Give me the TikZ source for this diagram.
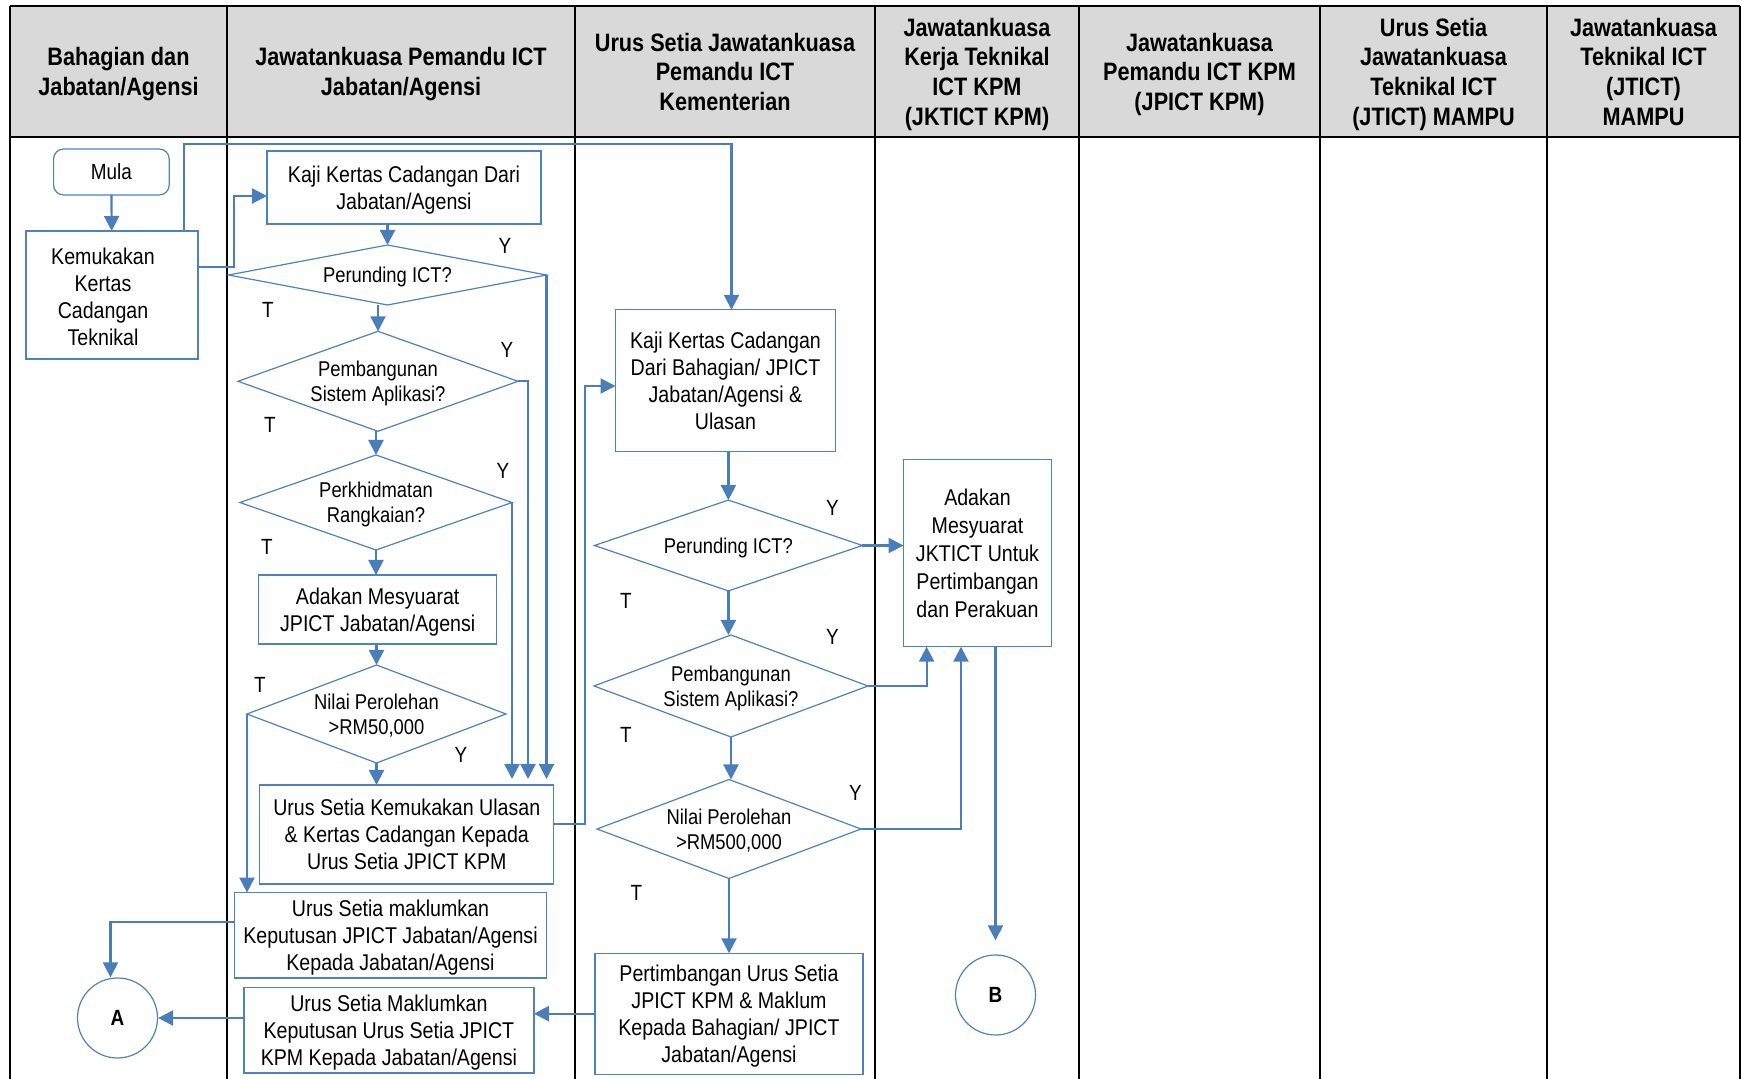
\documentclass[tikz,border=0pt]{standalone}
\usepackage{fontspec}
\setmainfont{Liberation Sans}[FakeStretch=0.86]
\usetikzlibrary{shapes.geometric,arrows.meta,calc}
\definecolor{lineblue}{RGB}{74,126,187}
\definecolor{boxblue}{RGB}{79,129,189}
\definecolor{hdrgray}{RGB}{217,217,217}
\newcommand\hdrf{\fontsize{12.6}{14.8}\selectfont\bfseries}
\newcommand\bodyf{\fontsize{11.4}{13.5}\selectfont}
\newcommand\decf{\fontsize{10.7}{12.5}\selectfont}
\newcommand\lblf{\fontsize{11}{13}\selectfont}
\newcommand\circf{\fontsize{11}{13}\selectfont\bfseries}
\tikzset{
 box/.style={draw=boxblue, line width=0.6pt, inner sep=0pt, outer sep=0pt, align=center, font=\bodyf, text=black, text depth=0pt},
 boxtext/.style={inner sep=0pt, align=center, font=\bodyf, text depth=0pt},
 dec/.style={diamond, aspect=2.8, draw=boxblue, line width=0.6pt, inner sep=0pt, outer sep=0pt, align=center, font=\decf, text depth=0pt},
 arr/.style={draw=lineblue, line width=1.1pt, -{Triangle[length=7.5pt,width=7.5pt]}},
 yt/.style={font=\lblf, inner sep=0pt},
 hdr/.style={font=\hdrf, align=center, inner sep=0pt, text depth=0pt},
 lane/.style={line width=1.2pt, draw=black},
 term/.style={circle, draw=boxblue, line width=0.6pt, minimum size=40pt, inner sep=0pt, font=\circf, text depth=0pt},
}
\begin{document}
\begin{tikzpicture}[x=0.5pt,y=-0.5pt]
\useasboundingbox (0,0) rectangle (1742,1079);
% table
\fill[hdrgray] (10,6) rectangle (1740,137);
\draw[lane] (10,6) -- (1740,6);
\draw[lane] (10,137) -- (1740,137);
\foreach \xx in {10,227,575,875,1079,1320,1547,1740}
  \draw[lane] (\xx,6) -- (\xx,1079);
% headers
\node[hdr] (h1) at (118.5,71.5) {Bahagian dan\\Jabatan/Agensi};
\node[hdr] (h2) at (401,71.5) {Jawatankuasa Pemandu ICT\\Jabatan/Agensi};
\node[hdr] (h3) at (725,71.5) {Urus Setia Jawatankuasa\\Pemandu ICT\\Kementerian};
\node[hdr] (h4) at (977,71.5) {Jawatankuasa\\Kerja Teknikal\\ICT KPM\\(JKTICT KPM)};
\node[hdr] (h5) at (1199.5,71.5) {Jawatankuasa\\Pemandu ICT KPM\\(JPICT KPM)};
\node[hdr] (h6) at (1433.5,71.5) {Urus Setia\\Jawatankuasa\\Teknikal ICT\\(JTICT) MAMPU};
\node[hdr] (h7) at (1643.5,71.5) {Jawatankuasa\\Teknikal ICT\\(JTICT)\\MAMPU};
% nodes
\node[box, rounded corners=5pt, minimum width=57.8pt, minimum height=23pt, font=\lblf] (mula) at (111.4,172) {Mula};
\node[box, minimum width=86pt, minimum height=64pt] (kem) at (112,295) {};
\node[boxtext] (kemtxt) at ([xshift=-4.5pt,yshift=-1pt]kem.center) {Kemukakan\\Kertas\\Cadangan\\Teknikal};
\node[box, minimum width=137pt, minimum height=36.5pt] (kaji1) at (404,187.5) {Kaji Kertas Cadangan Dari\\Jabatan/Agensi};
\node[dec, aspect=5, minimum width=159pt, minimum height=30pt] (per1) at (387.5,275) {Perunding ICT?};
\node[dec, minimum width=140pt, minimum height=50pt] (pem1) at (378,381.3) {Pembangunan\\Sistem Aplikasi?};
\node[dec, minimum width=136pt, minimum height=47.5pt] (perk1) at (376,502.5) {Perkhidmatan\\Rangkaian?};
\node[box, minimum width=119pt, minimum height=34.5pt] (ada1) at (377.7,609.5) {Adakan Mesyuarat\\JPICT Jabatan/Agensi};
\node[dec, minimum width=129.5pt, minimum height=49pt] (nil1) at (376.5,714) {Nilai Perolehan\\>RM50,000};
\node[box, minimum width=147pt, minimum height=49.5pt] (us1) at (406.8,834.5) {Urus Setia Kemukakan Ulasan\\\& Kertas Cadangan Kepada\\Urus Setia JPICT KPM};
\node[box, minimum width=156pt, minimum height=42.7pt] (us2) at (390.5,935.3) {Urus Setia maklumkan\\Keputusan JPICT Jabatan/Agensi\\Kepada Jabatan/Agensi};
\node[box, minimum width=145pt, minimum height=42.7pt] (us3) at (388.9,1030.3) {Urus Setia Maklumkan\\Keputusan Urus Setia JPICT\\KPM Kepada Jabatan/Agensi};
\node[term] (A) at (117.5,1018) {A};
\node[box, minimum width=110pt, minimum height=71pt] (kaji2) at (725.5,380.8) {Kaji Kertas Cadangan\\Dari Bahagian/ JPICT\\Jabatan/Agensi \&\\Ulasan};
\node[dec, minimum width=134pt, minimum height=45.4pt] (per2) at (728.4,545.5) {Perunding ICT?};
\node[dec, minimum width=137pt, minimum height=51pt] (pem2) at (731,686) {Pembangunan\\Sistem Aplikasi?};
\node[dec, minimum width=132pt, minimum height=49.5pt] (nil2) at (729,829) {Nilai Perolehan\\>RM500,000};
\node[box, minimum width=134pt, minimum height=60.4pt] (pert) at (729,1013.7) {Pertimbangan Urus Setia\\JPICT KPM \& Maklum\\Kepada Bahagian/ JPICT\\Jabatan/Agensi};
\node[box, minimum width=74pt, minimum height=93.4pt, font=\fontsize{11.4}{14}\selectfont] (ada2) at (977.5,553.3) {Adakan\\Mesyuarat\\JKTICT Untuk\\Pertimbangan\\dan Perakuan};
\node[term] (B) at (995.5,995) {B};
% labels
\node[yt] (y1) at (505,246) {Y};
\node[yt] (t1) at (268,310) {T};
\node[yt] (y2) at (507,350) {Y};
\node[yt] (t2) at (270,425) {T};
\node[yt] (y3) at (503,471) {Y};
\node[yt] (t3) at (267,547) {T};
\node[yt] (t4) at (260,685) {T};
\node[yt] (y4) at (461,755) {Y};
\node[yt] (y5) at (832.5,508) {Y};
\node[yt] (t5) at (626,600.7) {T};
\node[yt] (y6) at (832.5,636.7) {Y};
\node[yt] (t6) at (626,735) {T};
\node[yt] (y7) at (855.5,793) {Y};
\node[yt] (t7) at (636.5,892.7) {T};
% helper coordinates
\coordinate (vA) at (528,0);
\coordinate (vB) at (926.6,0);
\coordinate (vC) at (961,0);
% connectors
\draw[arr] (mula) -- (kem);
\draw[arr] ([yshift=14pt]kem.east) -- ++(36,0) |- ([yshift=-4.25pt]kaji1.west);
\draw[arr] ([xshift=36pt]kem.north) -- ++(0,-87) -| ([xshift=3pt]kaji2.north);
\draw[arr] (per1.north |- kaji1.south) -- (per1.north);
\draw[arr] (pem1.north |- per1.south) -- (pem1.north);
\draw[arr] (perk1.north |- pem1.south) -- (perk1.north);
\draw[arr] (perk1.south) -- (perk1.south |- ada1.north);
\draw[arr] (nil1.north |- ada1.south) -- (nil1.north);
\draw[arr] (nil1.south) -- (nil1.south |- us1.north);
\draw[arr, shorten >=3pt] (per1.east) -- (per1.east |- us1.north);
\draw[arr, shorten >=3pt] (pem1.east) -| (vA |- us1.north);
\draw[arr, shorten >=3pt] (perk1.east) -- (perk1.east |- us1.north);
\draw[arr] (nil1.west) -- (nil1.west |- us2.north);
\draw[arr] ([yshift=5.2pt]us1.east) -- ++(31,0) |- ([yshift=-2.6pt]kaji2.west);
\draw[arr] ([yshift=6.6pt]us2.west) -| ([xshift=-3.5pt]A.north);
\draw[arr] (us3.west |- A.east) -- (A.east);
\draw[arr] (pert.west) -- (pert.west -| us3.east);
\draw[arr] (per2.north |- kaji2.south) -- (per2.north);
\draw[arr] (per2.east) -- (per2.east -| ada2.west);
\draw[arr] (per2.south) -- (per2.south |- pem2.north);
\draw[arr] (pem2.east) -| (vB |- ada2.south);
\draw[arr] (pem2.south) -- (pem2.south |- nil2.north);
\draw[arr] (nil2.east) -| (vC |- ada2.south);
\draw[arr] (nil2.south) -- (nil2.south |- pert.north);
\draw[arr, shorten >=7pt] (B.north |- ada2.south) -- (B.north);
\end{tikzpicture}
\end{document}
